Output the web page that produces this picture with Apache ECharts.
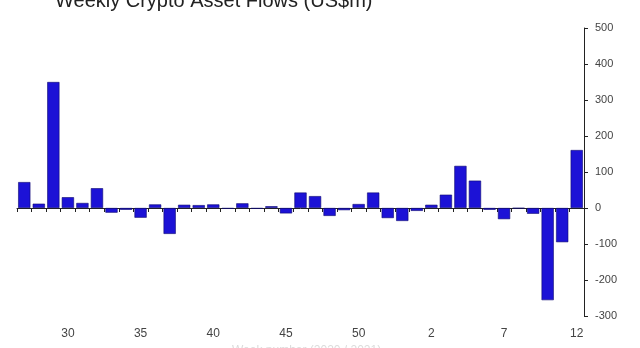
<!DOCTYPE html>
<html>
<head>
<meta charset="utf-8">
<script src="https://cdn.jsdelivr.net/npm/echarts@6/dist/echarts.min.js"></script>
<style>html,body{margin:0;padding:0;background:#fff}#c{width:640px;height:348px}</style>
</head>
<body>
<div id="c"></div>
<script>
const weeks = ['27','28','29','30','31','32','33','34','35','36','37','38','39','40','41','42','43','44','45','46','47','48','49','50','51','52','53','1','2','3','4','5','6','7','8','9','10','11','12'];
const flows = [72,12,350,30,14,55,-13,-5,-27,10,-72,9,8,10,-2,13,-2,5,-15,43,33,-22,-6,11,43,-28,-36,-8,9,37,117,76,-5,-31,-1,-16,-256,-95,161];
const shownWeekLabels = ['30','35','40','45','50','2','7','12'];
const yTicks = {min:-300, max:500, step:100};
const titleText = 'Weekly Crypto Asset Flows (US$m)';

const chart = echarts.init(document.getElementById('c'), null, {renderer:'canvas'});
chart.setOption({
  animation:false,
  backgroundColor:'#fff',
  textStyle:{fontFamily:'Liberation Sans, Arial, sans-serif'},
  title:{text:titleText, left:50, top:-14, textStyle:{fontSize:20, fontWeight:'normal', color:'#222', fontFamily:'Liberation Sans, Arial, sans-serif'}},
  graphic:[{type:'text', left:232, top:345, style:{text:'Week number (2020 / 2021)', fill:'#dcdcdc', font:'12px Liberation Sans'}}],
  grid:{left:17, right:56, top:28, bottom:32, containLabel:false},
  xAxis:[
    {type:'category', data:weeks, axisLine:{onZero:true, lineStyle:{color:'#222', width:1}},
     axisTick:{show:true, length:4, interval:0, lineStyle:{color:'#222'}}, axisLabel:{show:false}, splitLine:{show:false}},
    {type:'category', data:weeks, position:'bottom', axisLine:{show:false, onZero:false}, axisTick:{show:false},
     axisLabel:{interval:0, margin:12, color:'#444', fontSize:12, formatter:(v)=>shownWeekLabels.includes(v)?v:''}, splitLine:{show:false}}
  ],
  yAxis:{type:'value', position:'right', min:yTicks.min, max:yTicks.max, interval:yTicks.step,
    axisLine:{show:true, lineStyle:{color:'#222', width:1}}, axisTick:{show:true, length:4, lineStyle:{color:'#222'}},
    axisLabel:{color:'#444', fontSize:11, margin:11}, splitLine:{show:false}},
  series:[{type:'bar', data:flows, xAxisIndex:0, barCategoryGap:'16%',
    itemStyle:{color:'#1c12d6', borderColor:'#0e0870', borderWidth:0.6}}]
});
</script>
</body>
</html>
